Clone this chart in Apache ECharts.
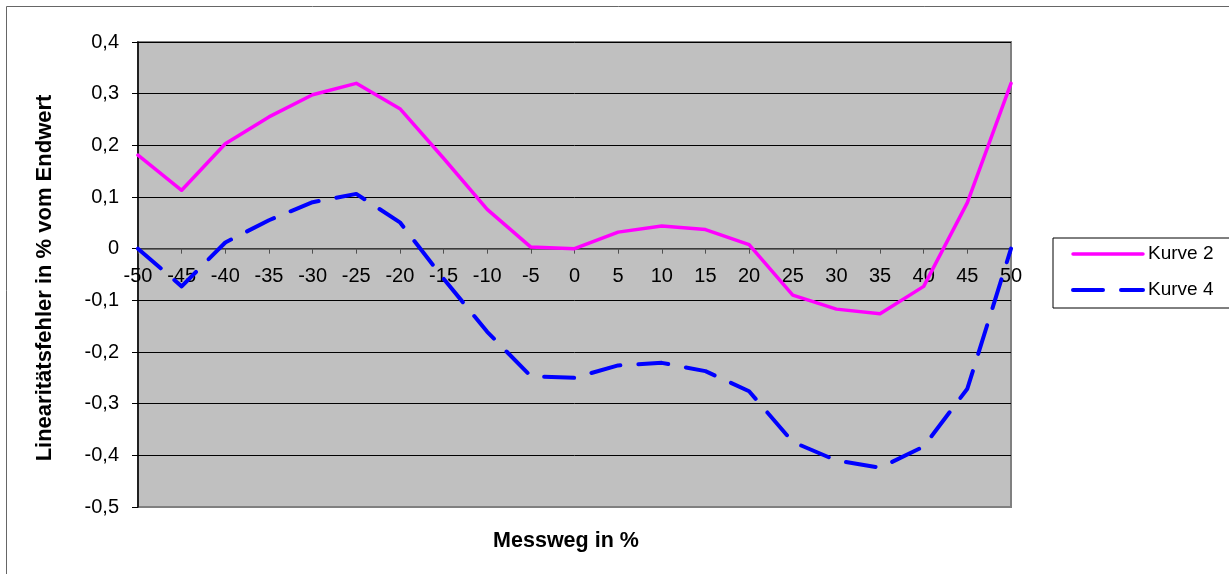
<!DOCTYPE html>
<html>
<head>
<meta charset="utf-8">
<title>Linearitätsfehler</title>
<script src="https://cdn.jsdelivr.net/npm/echarts@6/dist/echarts.min.js"></script>
<style>
  html, body { margin: 0; padding: 0; background: #ffffff; }
  #chart { width: 1229px; height: 574px; }
</style>
</head>
<body>
<div id="chart"></div>
<script>
// Messweg positions (%)
const messweg = [-50, -45, -40, -35, -30, -25, -20, -15, -10, -5, 0, 5, 10, 15, 20, 25, 30, 35, 40, 45, 50];

// Linearity error in % of full scale
const kurve2 = [0.181, 0.113, 0.203, 0.255, 0.298, 0.32, 0.271, 0.175, 0.076, 0.003, 0.0, 0.032, 0.044, 0.037, 0.008, -0.09, -0.117, -0.126, -0.073, 0.089, 0.32];
const kurve4 = [0.0, -0.073, 0.012, 0.055, 0.09, 0.106, 0.051, -0.058, -0.161, -0.247, -0.25, -0.226, -0.221, -0.237, -0.276, -0.374, -0.41, -0.424, -0.383, -0.271, 0.0];

const seriesNames = ['Kurve 2', 'Kurve 4'];
const xAxisTitle = 'Messweg in %';
const yAxisTitle = 'Linearitätsfehler in % vom Endwert';

const Y_MIN = -0.5, Y_MAX = 0.4, Y_STEP = 0.1;
const X_MIN = -50, X_MAX = 50, X_STEP = 5;

const pairs = (ys) => messweg.map((x, i) => [x, ys[i]]);
const fmtComma = (v) => {
  const r = Math.round(v * 10) / 10;
  return r === 0 ? '0' : r.toFixed(1).replace('.', ',');
};

const FONT = 'Arial, "Liberation Sans", sans-serif';
const W = 1229, H = 574;
const GRID = { left: 138, right: 218, top: 42, bottom: 67 };
const plotHeight = H - GRID.top - GRID.bottom;
// shift the x axis up from the bottom edge to the y = 0 line
const xAxisShift = -plotHeight * (0 - Y_MIN) / (Y_MAX - Y_MIN);

const chart = echarts.init(document.getElementById('chart'), null, { renderer: 'canvas' });

chart.setOption({
  animation: false,
  backgroundColor: '#ffffff',
  textStyle: { fontFamily: FONT },
  grid: Object.assign({}, GRID, {
    show: true,
    backgroundColor: '#c0c0c0',
    borderColor: '#808080',
    borderWidth: 2
  }),
  legend: {
    orient: 'vertical',
    left: 1053,
    top: 238,
    data: [
      { name: seriesNames[0], lineStyle: { width: 3.5 } },
      { name: seriesNames[1], lineStyle: { width: 4 } }
    ],
    itemWidth: 70,
    itemHeight: 14,
    itemGap: 16,
    itemTextGap: 6,
    padding: [6, 24, 8, 18],
    backgroundColor: '#ffffff',
    borderColor: '#000000',
    borderWidth: 1,
    borderRadius: 0,
    // line-only legend keys (hide the marker drawn on top of the line)
    itemStyle: { opacity: 0 },
    textStyle: { fontSize: 19, color: '#000', fontFamily: FONT, lineHeight: 20 }
  },
  xAxis: {
    type: 'value',
    position: 'bottom',
    offset: xAxisShift,
    min: X_MIN,
    max: X_MAX,
    interval: X_STEP,
    axisLine: { onZero: false, lineStyle: { color: '#505050', width: 1.5 } },
    axisTick: { show: true, inside: false, length: 5, lineStyle: { color: '#505050' } },
    axisLabel: {
      fontSize: 20, color: '#000', fontFamily: FONT, margin: 18,
      formatter: (v) => String(v)
    },
    splitLine: { show: false }
  },
  yAxis: {
    type: 'value',
    min: Y_MIN,
    max: Y_MAX,
    interval: Y_STEP,
    axisLine: { show: true, onZero: false, lineStyle: { color: '#000', width: 1.5 } },
    axisTick: { show: true, inside: false, length: 6, lineStyle: { color: '#000' } },
    axisLabel: {
      fontSize: 20, color: '#000', fontFamily: FONT, margin: 19,
      formatter: fmtComma
    },
    splitLine: {
      show: true,
      lineStyle: {
        color: ['#808080', '#000', '#000', '#000', '#000', '#000', '#000', '#000', '#000', '#000'],
        width: 1
      }
    }
  },
  series: [
    {
      name: seriesNames[0],
      type: 'line',
      data: pairs(kurve2),
      symbol: 'none',
      lineStyle: { color: '#ff00ff', width: 3.5, cap: 'round', join: 'round' },
      itemStyle: { color: '#ff00ff' },
      z: 3
    },
    {
      name: seriesNames[1],
      type: 'line',
      data: pairs(kurve4),
      symbol: 'none',
      lineStyle: { color: '#0000ff', width: 4, type: [30, 18], cap: 'round', join: 'round' },
      itemStyle: { color: '#0000ff' },
      z: 4
    }
  ],
  graphic: [
    {
      type: 'rect',
      silent: true,
      z: -10,
      shape: { x: 6.5, y: 6.5, width: 1300, height: 620 },
      style: { fill: null, stroke: '#666666', lineWidth: 1 }
    },
    {
      type: 'text',
      z: 10,
      x: 566,
      y: 541,
      style: {
        text: xAxisTitle,
        font: 'bold 21.5px ' + FONT,
        fill: '#000',
        align: 'center',
        verticalAlign: 'middle'
      }
    },
    {
      type: 'text',
      z: 10,
      x: 45,
      y: 278,
      rotation: Math.PI / 2,
      style: {
        text: yAxisTitle,
        font: 'bold 22px ' + FONT,
        fill: '#000',
        align: 'center',
        verticalAlign: 'middle'
      }
    }
  ]
});
</script>
</body>
</html>
